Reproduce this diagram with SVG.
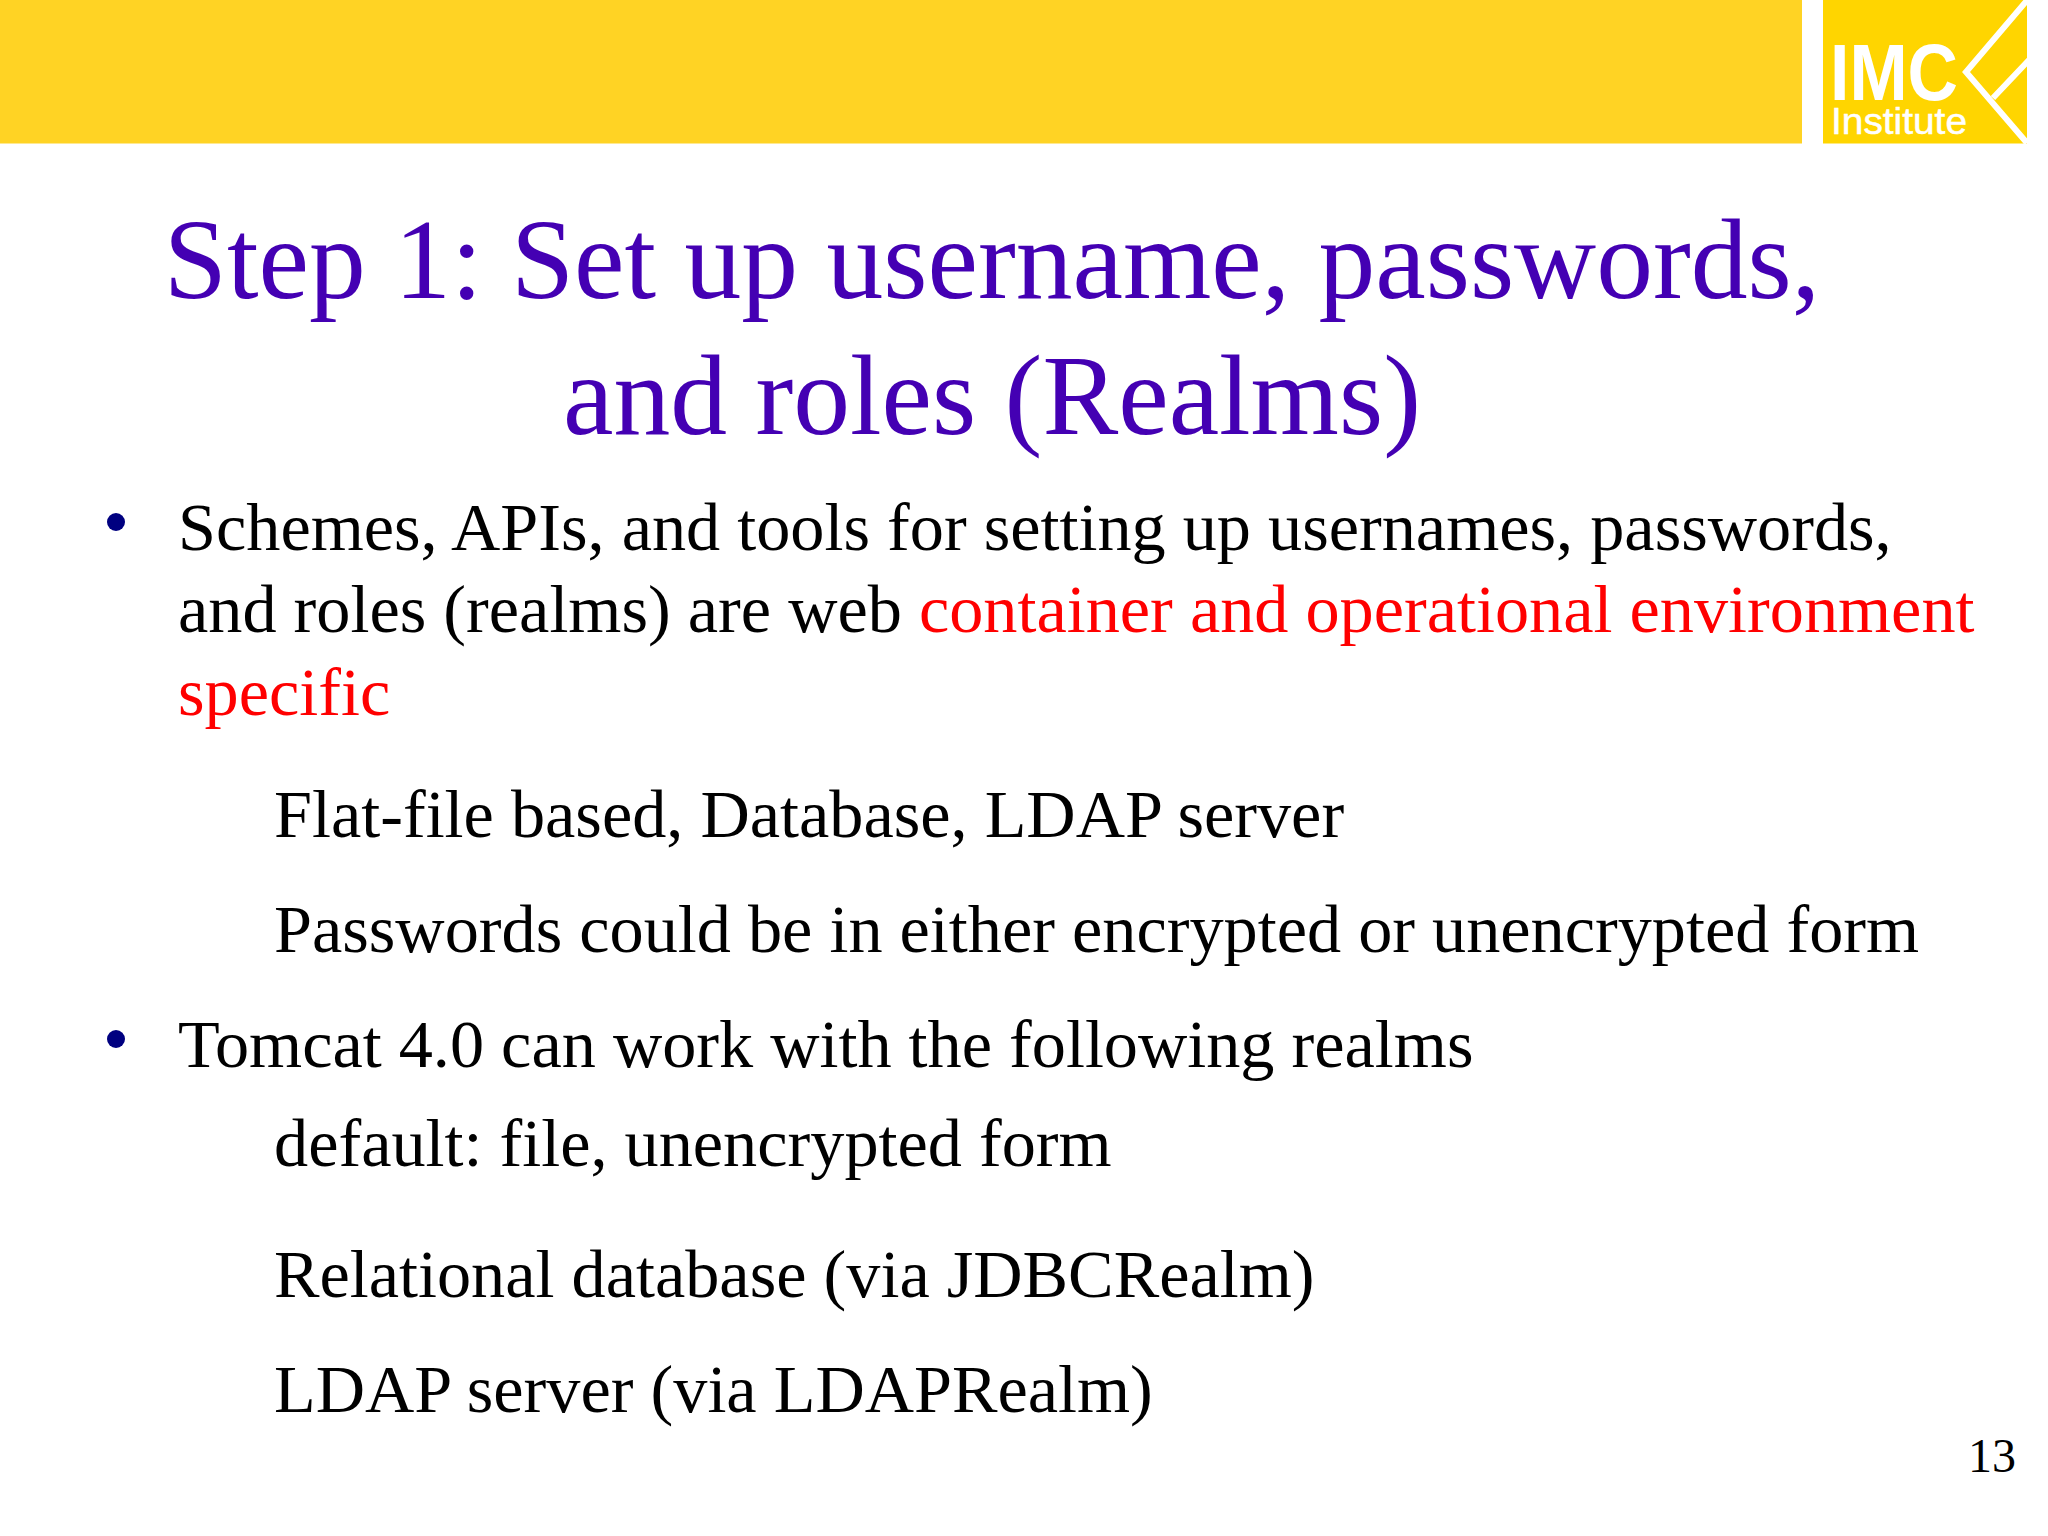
<svg xmlns="http://www.w3.org/2000/svg" width="2048" height="1536" viewBox="0 0 2048 1536">
<style>
text{font-family:"Liberation Serif","Times New Roman",serif}
.t{font-size:113.600px;fill:#4400b3;text-anchor:middle}
.b{font-size:68.250px;fill:#000}
.r{fill:#ff0000}
.l{font-family:"Liberation Sans",Arial,sans-serif;fill:#fff}
</style>
<rect width="2048" height="1536" fill="#fff"/>
<rect x="0" y="0" width="1802" height="143.500" fill="#ffd324"/>
<g id="logo">
<rect x="1823" y="0" width="204" height="143.500" fill="#ffd500"/>
<text class="l" x="1830" y="100" font-size="79" font-weight="bold" textLength="128" lengthAdjust="spacingAndGlyphs">IMC</text>
<text class="l" x="1831" y="134" font-size="36" stroke="#fff" stroke-width="0.5" textLength="136" lengthAdjust="spacingAndGlyphs">Institute</text>
<path d="M2029 -2L1966 72L2027 143M1993 98L2029 60" fill="none" stroke="#fff" stroke-width="6"/>
</g>
<text class="t" x="992" y="297.500">Step 1: Set up username, passwords,</text>
<text class="t" x="992" y="434">and roles (Realms)</text>
<circle cx="116" cy="522" r="9" fill="#000080"/>
<text class="b" x="178" y="550">Schemes, APIs, and tools for setting up usernames, passwords,</text>
<text class="b" x="178" y="632">and roles (realms) are web <tspan class="r">container and operational environment</tspan></text>
<text class="b r" x="178" y="715">specific</text>
<text class="b" x="274" y="837">Flat-file based, Database, LDAP server</text>
<text class="b" x="274" y="952">Passwords could be in either encrypted or unencrypted form</text>
<circle cx="116" cy="1039" r="9" fill="#000080"/>
<text class="b" x="178" y="1067">Tomcat 4.0 can work with the following realms</text>
<text class="b" x="274" y="1166">default: file, unencrypted form</text>
<text class="b" x="274" y="1297">Relational database (via JDBCRealm)</text>
<text class="b" x="274" y="1412">LDAP server (via LDAPRealm)</text>
<text x="2016" y="1472" font-size="48" text-anchor="end" fill="#000">13</text>
</svg>
